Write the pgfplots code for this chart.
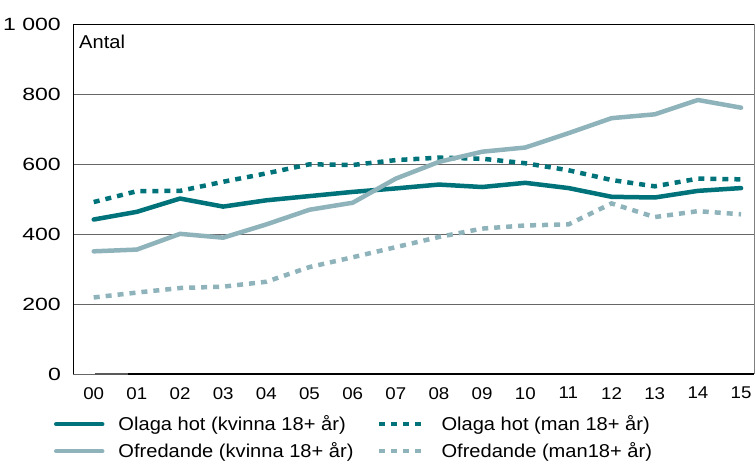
\documentclass[border=0pt]{standalone}
\usepackage{fontspec}
\usepackage{graphicx}
\setmainfont{Liberation Sans}
\newcommand\sy[1]{\scalebox{1.3}[1]{#1}}
\newcommand\sx[1]{\scalebox{1.1}[1]{#1}}
\newcommand\slg[1]{\scalebox{1.08}[1]{#1}}
\usepackage{pgfplots}
\pgfplotsset{compat=1.18}
\definecolor{dteal}{HTML}{00737A}
\definecolor{lteal}{HTML}{8FB3BB}
\begin{document}
\begin{tikzpicture}
\begin{axis}[
  scale only axis,
  width=681bp, height=349.5bp,
  xmin=-0.48, xmax=15.3, ymin=0, ymax=1000,
  clip=false,
  axis line style={draw=none},
  major tick length=0pt,
  xtick={0,...,15},
  xticklabels={\sx{00},\sx{01},\sx{02},\sx{03},\sx{04},\sx{05},\sx{06},\sx{07},\sx{08},\sx{09},\sx{10},\sx{11},\sx{12},\sx{13},\sx{14},\sx{15}},
  ytick={0,200,400,600,800,1000},
  yticklabels={\sy{0},\sy{200},\sy{400},\sy{600},\sy{800},\sy{1 000}},
  ymajorgrids,
  grid style={black!60, line width=0.8bp},
  xticklabel style={font=\fontsize{17bp}{20bp}\selectfont, inner sep=0pt, anchor=north, yshift=-13bp},
  yticklabel style={font=\fontsize{17.7bp}{20bp}\selectfont, inner sep=0pt, anchor=east, xshift=-12bp},
  legend columns=2,
  legend cell align=left,
  legend image code/.code={\draw[#1] (0bp,0bp) -- (46bp,0bp);},
  legend style={draw=none, fill=none, inner sep=0pt, outer sep=0pt,
    at={(0,0)}, anchor=north west, xshift=-19bp, yshift=-40bp,
    font=\fontsize{18.6bp}{22bp}\selectfont,
    nodes={inner sep=2bp},
    row sep=6.5bp,
    /tikz/every odd column/.append style={column sep=12bp},
    /tikz/every even column/.append style={column sep=21.5bp}},
  every axis plot/.append style={line width=4.5bp},
]
\addplot[dteal, line cap=round, line join=round] coordinates {
(0,442)(1,464)(2,502)(3,479)(4,497)(5,509)(6,521)(7,531)(8,542)(9,535)(10,547)(11,532)(12,507)(13,505)(14,524)(15,532)};
\addlegendentry{\slg{Olaga hot (kvinna 18+ år)}}
\addplot[dteal, dash pattern=on 6bp off 6bp] coordinates {
(0,492)(1,523)(2,524)(3,550)(4,574)(5,600)(6,598)(7,612)(8,619)(9,616)(10,603)(11,583)(12,555)(13,537)(14,559)(15,557)};
\addlegendentry{\slg{Olaga hot (man 18+ år)}}
\addplot[lteal, line cap=round, line join=round] coordinates {
(0,351)(1,356)(2,401)(3,390)(4,428)(5,470)(6,490)(7,559)(8,607)(9,636)(10,648)(11,689)(12,732)(13,743)(14,784)(15,762)};
\addlegendentry{\slg{Ofredande (kvinna 18+ år)}}
\addplot[lteal, dash pattern=on 6bp off 6bp] coordinates {
(0,219)(1,233)(2,246)(3,250)(4,264)(5,306)(6,334)(7,363)(8,392)(9,416)(10,425)(11,428)(12,488)(13,449)(14,466)(15,457)};
\addlegendentry{\slg{Ofredande (man18+ år)}}
\draw[black, line width=0.8bp] (rel axis cs:0,0) -- (rel axis cs:0,1) -- (rel axis cs:1,1);
\draw[black!50, line width=0.8bp] (rel axis cs:1,1) -- (rel axis cs:1,0);
\draw[black, line width=2.5bp] (rel axis cs:0,0) ++(14bp,0) -- (rel axis cs:1,0);
\draw[black!65, line width=2.5bp] (rel axis cs:0,0) ++(1bp,0) -- ++(13bp,0);
\node[anchor=base west, inner sep=0pt, font=\fontsize{18.6bp}{22bp}\selectfont] at (rel axis cs:0,1) [xshift=6bp, yshift=-23.8bp] {\slg{Antal}};
\end{axis}
\pgfresetboundingbox
\path (-73bp,-88bp) rectangle (683bp,374bp);
\end{tikzpicture}
\end{document}
